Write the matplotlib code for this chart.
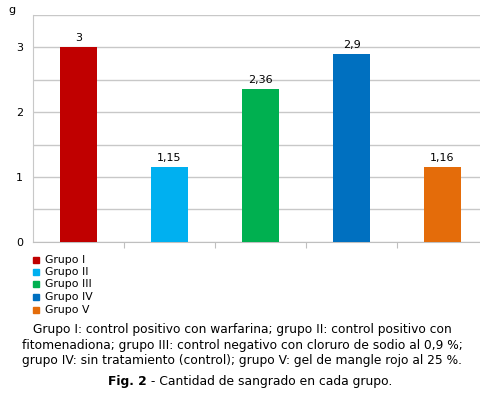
import matplotlib
matplotlib.use("Agg")
import matplotlib.pyplot as plt

categories = ["Grupo I", "Grupo II", "Grupo III", "Grupo IV", "Grupo V"]
values = [3, 1.15, 2.36, 2.9, 1.16]
value_labels = ["3", "1,15", "2,36", "2,9", "1,16"]
colors = ["#C00000", "#00B0F0", "#00B050", "#0070C0", "#E46C0A"]
yticks = [0, 1, 2, 3]

W, H = 480, 393
fig = plt.figure(figsize=(W / 100, H / 100), dpi=100)
plt.rcParams['font.family'] = ['DejaVu Sans']

left, right = 33, 488
top, bottom = 14.5, 242
ax = fig.add_axes([left / W, 1 - bottom / H, (right - left) / W, (bottom - top) / H])

x = list(range(len(categories)))
ax.bar(x, values, width=0.4, color=colors, zorder=3)
for xi, v, lab in zip(x, values, value_labels):
    ax.text(xi, v + 0.06, lab, ha="center", va="bottom", fontsize=8, color="black")

grid_ticks = [0, 0.5, 1, 1.5, 2, 2.5, 3, 3.5]
ax.set_xlim(-0.5, len(categories) - 0.5)
ax.set_ylim(0, 3.5)
ax.set_yticks(grid_ticks)
ax.set_yticklabels([str(t) if t in yticks else "" for t in grid_ticks], fontsize=8)
ax.tick_params(axis="y", length=0, pad=7)
ax.set_xticks([0.5, 1.5, 2.5, 3.5])
ax.set_xticklabels([])
ax.tick_params(axis="x", length=4, color="#BFBFBF", direction="out")
ax.grid(axis="y", color="#C8C8C8", linewidth=1, zorder=0)
for s in ["top", "right"]:
    ax.spines[s].set_visible(False)
ax.spines["left"].set_color("#C8C8C8")
ax.spines["bottom"].set_color("#BFBFBF")

fig.text(12 / W, 1 - 10 / H, "g", ha="center", va="center", fontsize=8)

# Legend
ly = [260, 272, 284, 297, 310]
for yy, c, lab in zip(ly, colors, categories):
    fig.patches.append(plt.Rectangle((33 / W, 1 - (yy + 3) / H), 6 / W, 6 / H,
                                     transform=fig.transFigure, color=c, figure=fig))
    fig.text(45 / W, 1 - yy / H, lab, ha="left", va="center", fontsize=7.8)

caption = ("Grupo I: control positivo con warfarina; grupo II: control positivo con\n"
           "fitomenadiona; grupo III: control negativo con cloruro de sodio al 0,9 %;\n"
           "grupo IV: sin tratamiento (control); grupo V: gel de mangle rojo al 25 %.")
fig.text(242 / W, 1 - 345 / H, caption, ha="center", va="center", fontsize=8.8,
         linespacing=1.25)

t1 = fig.text(108 / W, 1 - 382 / H, "Fig. 2", ha="left", va="center", fontsize=8.9,
              fontweight="bold")
ax.annotate(" - Cantidad de sangrado en cada grupo.", xy=(1, 0.5), xycoords=t1,
            ha="left", va="center", fontsize=8.9, annotation_clip=False)

fig.savefig("out.png", dpi=100)
